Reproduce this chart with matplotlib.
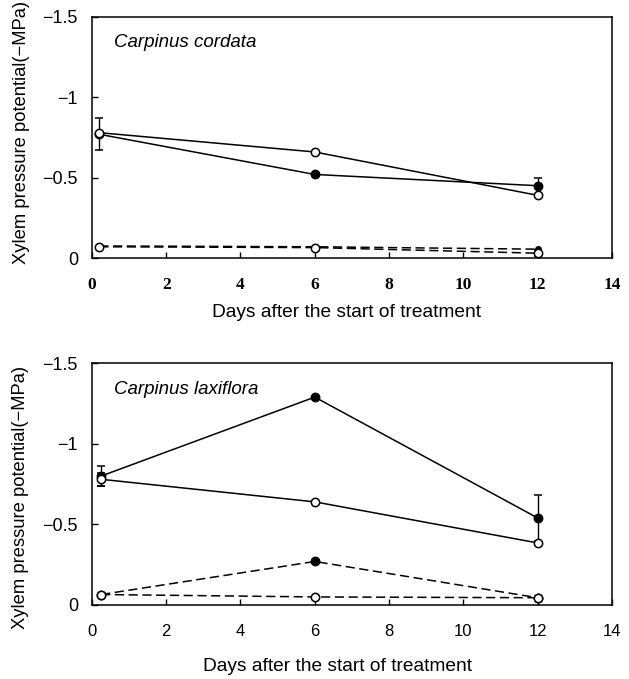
import numpy as np
import matplotlib
matplotlib.use("Agg")
import matplotlib.pyplot as plt

# ================================
# DATA (plotted as negative MPa)
# ================================

days = [0.2, 6, 12]
days_b = [0.25, 6, 12]

# Carpinus cordata
cord_solid_open = [-0.78, -0.66, -0.39]
cord_solid_fill = [-0.77, -0.52, -0.45]
cord_dash_fill = [-0.075, -0.07, -0.055]
cord_dash_open = [-0.07, -0.065, -0.03]
cord_fill_err = [0.10, 0.0, 0.05]
cord_open_err = [0.0, 0.0, 0.0]
cord_dopen_err = [0.0, 0.0, 0.02]

# Carpinus laxiflora
lax_solid_fill = [-0.80, -1.29, -0.54]
lax_solid_open = [-0.78, -0.64, -0.385]
lax_dash_fill = [-0.065, -0.27, -0.045]
lax_dash_open = [-0.065, -0.05, -0.045]
lax_fill_err = [0.06, 0.0, 0.14]
lax_open_err = [0.04, 0.0, 0.0]

x_ticks = [0, 2, 4, 6, 8, 10, 12, 14]
y_ticks = [-1.5, -1, -0.5, 0]
y_tick_labels = ["\u22121.5", "\u22121", "\u22120.5", "0"]

# ================================
# PLOT
# ================================

fig = plt.figure(figsize=(6.29, 6.79), dpi=100)
ax1 = fig.add_axes([0.146, 0.620, 0.827, 0.355])
ax2 = fig.add_axes([0.146, 0.109, 0.827, 0.356])

sans = "Liberation Sans"
serif = "Liberation Serif"


def series(ax, x, y, err, filled, dashed):
    ls = (0, (6, 3)) if dashed else "-"
    ax.errorbar(x, y, yerr=err, color="black", lw=1.1, ls=ls,
                marker="o", ms=6, mfc="black" if filled else "white",
                mec="black", mew=1.1, capsize=3, elinewidth=1.0, capthick=1.0)


series(ax1, days, cord_solid_fill, cord_fill_err, True, False)
series(ax1, days, cord_solid_open, cord_open_err, False, False)
series(ax1, days, cord_dash_open, cord_dopen_err, False, True)
ax1.plot(days, cord_dash_fill, color="black", lw=1.1, ls=(0, (6, 3)),
         marker="o", ms=4, mfc="black", mec="black")

series(ax2, days_b, lax_solid_fill, lax_fill_err, True, False)
series(ax2, days_b, lax_solid_open, lax_open_err, False, False)
series(ax2, days_b, lax_dash_fill, [0, 0, 0], True, True)
series(ax2, days_b, lax_dash_open, [0, 0, 0], False, True)

panels = [
    # axes, name, x tick font, xlabel pos, ylabel pos
    (ax1, "Carpinus cordata", serif, (0.49, -0.228), (-0.135, 0.52)),
    (ax2, "Carpinus laxiflora", sans, (0.473, -0.256), (-0.138, 0.446)),
]

for ax, name, tick_font, xl_pos, yl_pos in panels:
    ax.set_xlim(0, 14)
    ax.set_ylim(0, -1.5)
    ax.set_xticks(x_ticks)
    ax.set_yticks(y_ticks)
    ax.set_yticklabels(y_tick_labels, fontfamily=sans, fontsize=13)
    if tick_font == serif:
        ax.set_xticklabels([str(t) for t in x_ticks], fontfamily=serif,
                           fontsize=12.5, fontweight="bold")
    else:
        ax.set_xticklabels([str(t) for t in x_ticks], fontfamily=sans,
                           fontsize=12)
    ax.tick_params(axis="x", direction="in", length=4, width=1, pad=14)
    ax.tick_params(axis="y", direction="in", length=4, width=1, pad=10)
    for sp in ax.spines.values():
        sp.set_linewidth(1.1)
    ax.text(0.6, -1.34, name, fontfamily=sans, fontstyle="italic",
            fontsize=13.5, va="center", ha="left")
    ax.set_ylabel("Xylem pressure potential(\u2212MPa)", fontfamily=sans,
                  fontsize=13.2, va="center", ha="center")
    ax.yaxis.set_label_coords(*yl_pos)
    ax.set_xlabel("Days after the start of treatment", fontfamily=sans,
                  fontsize=13.8, va="center", ha="center")
    ax.xaxis.set_label_coords(*xl_pos)

fig.savefig("out.png", dpi=100)
